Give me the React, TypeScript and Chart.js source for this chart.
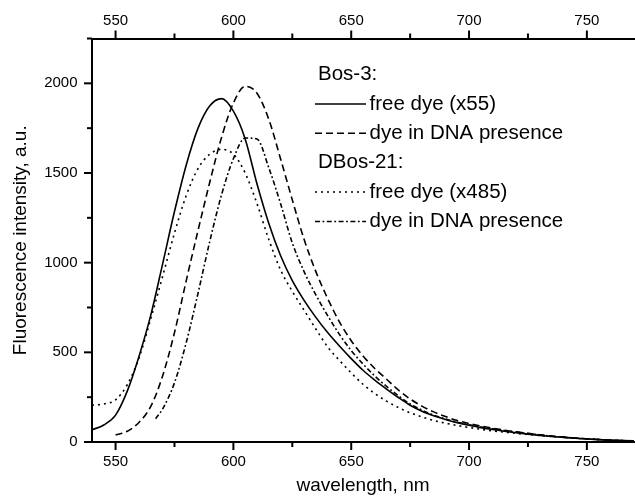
import React, { useEffect, useRef } from 'react';
import { Chart, registerables } from 'chart.js';

Chart.register(...registerables);

// ---- data ----
const WAVELENGTHS = [
  540, 545, 550, 555, 560, 565, 570, 575, 580, 585, 590, 595, 600, 605, 610, 615,
  620, 625, 630, 635, 640, 645, 650, 655, 660, 665, 670, 675, 680, 685, 690, 695,
  700, 705, 710, 715, 720, 725, 730, 735, 740, 745, 750, 755, 760, 765, 770,
];

// Bos-3, free dye (x55) — solid
const BOS3_FREE = [
  68, 95, 150, 285, 480, 710, 995, 1285, 1545, 1750, 1875, 1915, 1845, 1690, 1440, 1220,
  1040, 900, 790, 695, 610, 535, 465, 400, 345, 295, 248, 205, 172, 147, 126, 108,
  93, 80, 70, 60, 52, 44, 37, 31, 26, 21, 17, 13, 10, 8, 6,
];

// Bos-3, dye in DNA presence — dashed
const BOS3_DNA = [
  null, null, 39, 60, 110, 200, 370, 610, 900, 1180, 1450, 1700, 1890, 1983, 1945, 1800,
  1580, 1350, 1130, 950, 800, 670, 565, 480, 410, 350, 290, 240, 200, 168, 142, 120,
  103, 89, 77, 66, 57, 48, 40, 33, 27, 22, 18, 14, 11, 8, 6,
];

// DBos-21, free dye (x485) — dotted
const DBOS21_FREE = [
  205, 212, 235, 320, 470, 690, 925, 1165, 1375, 1525, 1605, 1632, 1605, 1500, 1330, 1130,
  960, 840, 735, 630, 530, 455, 385, 322, 270, 228, 192, 163, 140, 120, 105, 92,
  81, 71, 62, 55, 48, 42, 36, 31, 26, 21, 17, 13, 10, 8, 6,
];

// DBos-21, dye in DNA presence — dash-dot (own wavelength list, starts later)
const DBOS21_DNA_WL = [
  567, 570, 575, 580, 585, 590, 595, 600, 605, 610, 615, 620, 625, 630, 635, 640,
  645, 650, 655, 660, 665, 670, 675, 680, 685, 690, 695, 700, 705, 710, 715, 720,
  725, 730, 735, 740, 745, 750, 755, 760, 765, 770,
];
const DBOS21_DNA = [
  130, 185, 330, 555, 830, 1120, 1380, 1580, 1695, 1690, 1530, 1330, 1110, 950, 820, 705,
  600, 510, 435, 368, 310, 258, 212, 178, 150, 128, 110, 96, 84, 74, 64, 55,
  47, 40, 33, 27, 22, 18, 14, 11, 8, 6,
];

const X_TICKS = [550, 600, 650, 700, 750];
const X_MINOR = [575, 625, 675, 725];
const Y_TICKS = [0, 500, 1000, 1500, 2000];
const Y_MINOR = [250, 750, 1250, 1750, 2250];

const X_MIN = 540;
const X_MAX = 770;
const Y_MIN = 0;
const Y_MAX = 2250;

const LEGEND_GROUPS = [
  { header: 'Bos-3:', items: [
    { label: 'free dye (x55)', dash: [] as number[] },
    { label: 'dye in DNA presence', dash: [7, 4] },
  ] },
  { header: 'DBos-21:', items: [
    { label: 'free dye (x485)', dash: [2, 4] },
    { label: 'dye in DNA presence', dash: [5, 2.5, 1.8, 2.5] },
  ] },
];

const FONT = '"Liberation Sans", Arial, Helvetica, sans-serif';

function toPoints(xs: number[], ys: (number | null)[]) {
  const pts: { x: number; y: number }[] = [];
  xs.forEach((x, i) => {
    const y = ys[i];
    if (y !== null && y !== undefined) pts.push({ x, y });
  });
  return pts;
}

const axisTicksPlugin = {
  id: 'axisTicks',
  afterDraw(chart: any) {
    const { ctx, chartArea: a, scales } = chart;
    const major = 8;
    const minor = 5;
    ctx.save();
    ctx.strokeStyle = '#000';
    ctx.lineWidth = 2;
    const seg = (x1: number, y1: number, x2: number, y2: number) => {
      ctx.beginPath();
      ctx.moveTo(x1, y1);
      ctx.lineTo(x2, y2);
      ctx.stroke();
    };
    const xs = scales.x;
    const ys = scales.y;
    X_TICKS.forEach((v) => {
      const p = xs.getPixelForValue(v);
      seg(p, a.bottom, p, a.bottom + major);
      seg(p, a.top, p, a.top - major);
    });
    X_MINOR.forEach((v) => {
      const p = xs.getPixelForValue(v);
      seg(p, a.bottom, p, a.bottom + minor);
      seg(p, a.top, p, a.top - minor);
    });
    Y_TICKS.forEach((v) => {
      const p = ys.getPixelForValue(v);
      seg(a.left, p, a.left - major, p);
    });
    Y_MINOR.forEach((v) => {
      const p = ys.getPixelForValue(v);
      seg(a.left, p, a.left - minor, p);
    });
    ctx.restore();
  },
};

const legendPlugin = {
  id: 'groupLegend',
  afterDraw(chart: any) {
    const { ctx } = chart;
    const headerX = 318;
    const lineX0 = 315;
    const lineX1 = 366;
    const textX = 369.5;
    const y0 = 74.5;
    const dy = 29.4;
    ctx.save();
    ctx.font = `20.5px ${FONT}`;
    ctx.fillStyle = '#000';
    ctx.strokeStyle = '#000';
    ctx.lineWidth = 1.5;
    ctx.textAlign = 'left';
    ctx.textBaseline = 'middle';
    let row = 0;
    LEGEND_GROUPS.forEach((g) => {
      ctx.fillText(g.header, headerX, y0 + row * dy);
      row++;
      g.items.forEach((it) => {
        const y = y0 + row * dy;
        ctx.setLineDash(it.dash);
        ctx.beginPath();
        ctx.moveTo(lineX0, y);
        ctx.lineTo(lineX1, y);
        ctx.stroke();
        ctx.setLineDash([]);
        ctx.fillText(it.label, textX, y);
        row++;
      });
    });
    ctx.restore();
  },
};

const plainLabel = (v: any) => String(v);

export default function App() {
  const canvasRef = useRef<HTMLCanvasElement | null>(null);

  useEffect(() => {
    document.body.style.margin = '0';
    const canvas = canvasRef.current;
    if (!canvas) return;
    Chart.defaults.color = '#000';
    Chart.defaults.font.family = FONT;

    const lineStyle = (dash: number[]) => ({
      borderColor: '#000',
      backgroundColor: '#000',
      borderWidth: 1.6,
      borderDash: dash,
      pointRadius: 0,
      fill: false,
      cubicInterpolationMode: 'monotone' as const,
    });

    const chart = new Chart(canvas, {
      type: 'line',
      data: {
        datasets: [
          { label: 'Bos-3 free dye (x55)', data: toPoints(WAVELENGTHS, BOS3_FREE), ...lineStyle([]) },
          { label: 'Bos-3 dye in DNA presence', data: toPoints(WAVELENGTHS, BOS3_DNA), ...lineStyle([7, 4]) },
          { label: 'DBos-21 free dye (x485)', data: toPoints(WAVELENGTHS, DBOS21_FREE), ...lineStyle([2, 4]) },
          { label: 'DBos-21 dye in DNA presence', data: toPoints(DBOS21_DNA_WL, DBOS21_DNA), ...lineStyle([5, 2.5, 1.8, 2.5]) },
        ],
      },
      options: {
        responsive: false,
        animation: false,
        devicePixelRatio: 1,
        layout: { padding: { left: 0, right: 1, top: 0, bottom: 0 } },
        plugins: {
          legend: { display: false },
          tooltip: { enabled: false },
        },
        scales: {
          x: {
            type: 'linear',
            position: 'bottom',
            min: X_MIN,
            max: X_MAX,
            afterBuildTicks: (s: any) => { s.ticks = X_TICKS.map((value) => ({ value })); },
            afterFit: (s: any) => { s.height = 54; },
            grid: { display: false, drawTicks: false },
            border: { display: true, color: '#000', width: 2 },
            ticks: { padding: 10.5, font: { size: 15 }, color: '#000', maxRotation: 0, callback: plainLabel },
            title: { display: true, text: 'wavelength, nm', font: { size: 19 }, color: '#000', padding: { top: 0, bottom: -1 } },
          },
          x2: {
            type: 'linear',
            position: 'top',
            min: X_MIN,
            max: X_MAX,
            afterBuildTicks: (s: any) => { s.ticks = X_TICKS.map((value) => ({ value })); },
            afterFit: (s: any) => { s.height = 38.5; },
            grid: { display: false, drawTicks: false },
            border: { display: true, color: '#000', width: 2 },
            ticks: { padding: 9, font: { size: 15 }, color: '#000', maxRotation: 0, callback: plainLabel },
          },
          y: {
            type: 'linear',
            position: 'left',
            min: Y_MIN,
            max: Y_MAX,
            afterBuildTicks: (s: any) => { s.ticks = Y_TICKS.map((value) => ({ value })); },
            afterFit: (s: any) => { s.width = 92; },
            grid: { display: false, drawTicks: false },
            border: { display: true, color: '#000', width: 2 },
            ticks: { padding: 14.5, font: { size: 15 }, color: '#000', callback: plainLabel },
            title: { display: true, text: 'Fluorescence intensity, a.u.', font: { size: 19 }, color: '#000', padding: { top: 9.3, bottom: 0 } },
          },
        },
      },
      plugins: [axisTicksPlugin, legendPlugin],
    } as any);

    return () => chart.destroy();
  }, []);

  return (
    <div style={{ position: 'absolute', left: 0, top: 0, width: 635, height: 496, background: '#fff' }}>
      <canvas ref={canvasRef} width={635} height={496} />
    </div>
  );
}
